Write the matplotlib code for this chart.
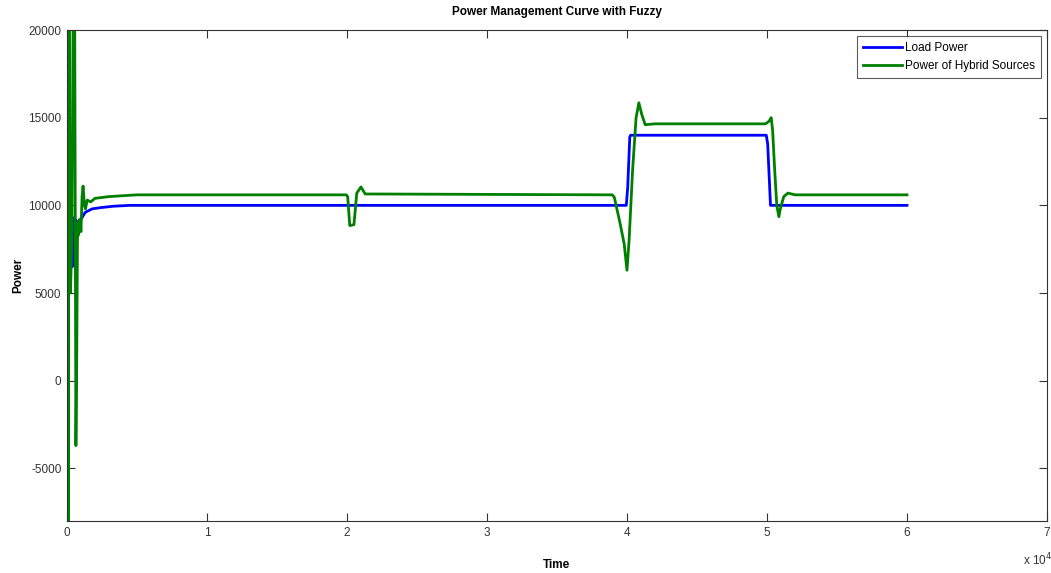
import numpy as np
import matplotlib.pyplot as plt

plt.rcParams['font.family'] = ['Liberation Sans', 'DejaVu Sans']
plt.rcParams['axes.unicode_minus'] = False

# Load power (blue), breakpoints
load_t = [0, 200, 280, 330, 380, 430, 500, 600, 700, 800, 1000, 1300, 1800,
          2400, 3300, 4500, 20000, 39950, 40050, 40200, 40260,
          49950, 50050, 50250, 60000]
load_p = [9000, 12400, 7500, 9300, 6500, 9300, 8500, 9200, 8600, 9100, 9200,
          9600, 9800, 9870, 9950, 10000, 10000, 10000, 11000, 13900, 14000,
          14000, 13500, 10000, 10000]

# Power of hybrid sources (green)
hyb_t = [0, 40, 90, 150, 250, 350, 450, 550, 640, 700, 760, 820, 900, 1000,
         1080, 1150, 1250, 1320, 1450, 1700, 2000, 3000, 5000,
         19950, 20050, 20200, 20500, 20700, 21000, 21300,
         38950, 39100, 39500, 39800, 40000, 40150, 40400, 40650, 40850,
         41050, 41300, 42000,
         49900, 50150, 50300, 50400, 50550, 50700, 50850, 50950, 51200,
         51500, 52000, 60000]
hyb_p = [-9000, 22000, -9000, 21000, 5000, 8000, 22000, 22000, -3700, 1500,
         9000, 8300, 9200, 8500, 10500, 11100, 10000, 9800, 10300, 10200,
         10400, 10500, 10600,
         10600, 10500, 8850, 8900, 10700, 11050, 10650,
         10600, 10450, 9000, 7800, 6300, 8000, 12000, 15000, 15850,
         15200, 14600, 14650,
         14650, 14800, 15000, 14300, 12000, 10000, 9350, 9800, 10500,
         10700, 10600, 10600]

xtick_vals = [0, 10000, 20000, 30000, 40000, 50000, 60000, 70000]
xtick_labels = ['0', '1', '2', '3', '4', '5', '6', '7']
ytick_vals = [-5000, 0, 5000, 10000, 15000, 20000]

fig = plt.figure(figsize=(10.51, 5.73), dpi=100)
ax = fig.add_axes([0.0637, 0.0908, 0.9325, 0.8568])

ax.plot(load_t, load_p, color='#0000ff', lw=2.0, label='Load Power')
ax.plot(hyb_t, hyb_p, color='#008000', lw=2.0, label='Power of Hybrid Sources')

ax.set_xlim(0, 70000)
ax.set_ylim(-8000, 20000)
ax.set_xticks(xtick_vals)
ax.set_xticklabels(xtick_labels)
ax.set_yticks(ytick_vals)
ax.tick_params(direction='in', length=6, width=0.8, top=True, right=True,
               labelsize=8.5, colors='#333333', pad=4)
for s in ax.spines.values():
    s.set_color('#333333')
    s.set_linewidth(0.8)

ax.set_title('Power Management Curve with Fuzzy', fontsize=8.5,
             fontweight='bold', pad=11)
ax.set_xlabel('Time', fontsize=8.5, fontweight='bold', labelpad=15)
ax.set_ylabel('Power', fontsize=8.5, fontweight='bold', labelpad=3)
fig.text(0.973, 0.008, r'x 10$^4$', fontsize=8.5, color='#333333',
         ha='left', va='bottom')

leg = ax.legend(loc='upper right', fontsize=8.5, frameon=True, fancybox=False,
                borderaxespad=0.5, handlelength=3.3, handletextpad=0.3,
                borderpad=0.5, labelspacing=0.55)
leg.get_frame().set_edgecolor('#333333')
leg.get_frame().set_linewidth(0.8)

fig.savefig('out.png', dpi=100)
